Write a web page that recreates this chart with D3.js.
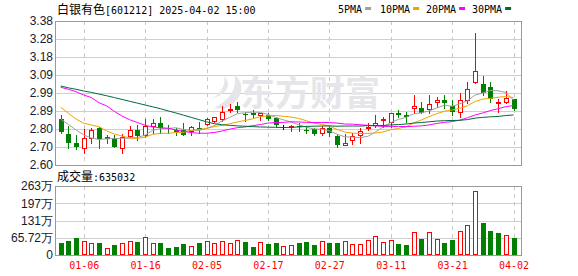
<!DOCTYPE html>
<html>
<head>
<meta charset="utf-8">
<script src="https://cdn.jsdelivr.net/npm/d3@7"></script>
<style>
    body { margin: 0; background: #fff; }
    svg { display: block; }
</style>
</head>
<body>
<div id="kChart"></div>
<script>
// trading days, 2024-12-31 .. 2025-04-02
let dates = ["12-31","01-02","01-03","01-06","01-07","01-08","01-09","01-10","01-13","01-14",
    "01-15","01-16","01-17","01-20","01-21","01-22","01-23","01-24","01-27","02-05",
    "02-06","02-07","02-10","02-11","02-12","02-13","02-14","02-17","02-18","02-19",
    "02-20","02-21","02-24","02-25","02-26","02-27","02-28","03-03","03-04","03-05",
    "03-06","03-07","03-10","03-11","03-12","03-13","03-14","03-17","03-18","03-19",
    "03-20","03-21","03-24","03-25","03-26","03-27","03-28","03-31","04-01","04-02"];

let opens = [2.849,2.768,2.719,2.690,2.746,2.799,2.750,2.745,2.690,2.759,
    2.790,2.763,2.813,2.826,2.802,2.790,2.790,2.784,2.799,2.822,
    2.840,2.849,2.896,2.920,2.878,2.883,2.872,2.871,2.856,2.807,
    2.804,2.811,2.790,2.793,2.772,2.799,2.759,2.708,2.735,2.763,
    2.799,2.815,2.844,2.831,2.883,2.871,2.909,2.907,2.902,2.943,
    2.952,2.920,2.885,2.952,3.051,3.039,3.021,2.934,2.943,2.956];
let highs = [2.871,2.811,2.763,2.795,2.802,2.804,2.763,2.763,2.766,2.811,
    2.817,2.849,2.849,2.858,2.817,2.802,2.826,2.811,2.835,2.853,
    2.862,2.920,2.930,2.943,2.885,2.898,2.883,2.883,2.862,2.817,
    2.817,2.830,2.811,2.802,2.811,2.811,2.763,2.768,2.772,2.799,
    2.826,2.871,2.862,2.880,2.898,2.885,2.979,2.943,2.979,2.967,
    2.979,2.952,2.988,3.051,3.317,3.082,3.048,2.958,3.001,2.960];
let lows = [2.772,2.694,2.688,2.667,2.721,2.690,2.718,2.699,2.667,2.753,
    2.735,2.753,2.772,2.772,2.772,2.763,2.763,2.763,2.772,2.817,
    2.835,2.840,2.885,2.889,2.840,2.862,2.844,2.844,2.807,2.793,
    2.784,2.784,2.776,2.763,2.763,2.755,2.699,2.708,2.714,2.721,
    2.790,2.804,2.807,2.807,2.862,2.831,2.883,2.880,2.883,2.913,
    2.909,2.871,2.862,2.934,3.043,2.979,2.943,2.889,2.934,2.896];
let closes = [2.780,2.721,2.696,2.745,2.788,2.741,2.742,2.699,2.753,2.790,
    2.759,2.811,2.826,2.799,2.793,2.780,2.763,2.807,2.790,2.848,
    2.858,2.885,2.902,2.896,2.875,2.871,2.880,2.849,2.817,2.807,
    2.811,2.804,2.787,2.766,2.802,2.772,2.708,2.717,2.757,2.786,
    2.807,2.826,2.851,2.880,2.871,2.862,2.920,2.883,2.930,2.952,
    2.934,2.889,2.952,3.012,3.109,2.988,2.958,2.943,2.965,2.902];

let volumes = [468600,545000,648000,545000,469000,469000,267000,381000,469000,521000,
    508000,673000,469000,469000,279000,317000,419000,343000,469000,533000,
    469000,533000,445000,571000,508000,317000,495000,431000,469000,343000,
    381000,470000,508000,381000,533000,470000,470000,533000,419000,419000,
    571000,724000,495000,571000,419000,381000,876000,610000,876000,610000,
    457000,571000,902000,1143000,2426000,1232000,914000,851000,762000,635032];
// 1 = red bar, 0 = green bar
let volUp = [0,0,0,1,1,0,1,0,1,1, 0,1,1,0,0,0,0,1,0,1, 1,1,1,1,0,0,1,0,0,1,
    1,0,0,0,1,0,0,1,1,1, 1,1,1,1,0,0,1,0,1,1, 0,0,1,1,1,0,0,0,1,0];

let ma5 = [2.848,2.820,2.790,2.763,2.746,2.738,2.742,2.743,2.745,2.745,
    2.749,2.762,2.788,2.797,2.798,2.802,2.792,2.788,2.787,2.798,
    2.813,2.838,2.857,2.878,2.883,2.886,2.885,2.874,2.858,2.845,
    2.833,2.818,2.805,2.795,2.794,2.786,2.767,2.753,2.751,2.748,
    2.755,2.779,2.805,2.830,2.847,2.858,2.877,2.883,2.893,2.909,
    2.924,2.918,2.931,2.948,2.979,2.990,3.004,3.002,2.993,2.951];
let ma10 = [2.913,2.880,2.849,2.826,2.817,2.807,2.784,2.768,2.757,2.746,
    2.744,2.752,2.766,2.771,2.772,2.776,2.777,2.788,2.792,2.798,
    2.808,2.815,2.823,2.833,2.841,2.850,2.862,2.866,2.868,2.864,
    2.860,2.852,2.840,2.827,2.820,2.810,2.793,2.779,2.773,2.771,
    2.771,2.773,2.779,2.791,2.798,2.807,2.828,2.844,2.862,2.878,
    2.891,2.898,2.907,2.921,2.944,2.957,2.961,2.967,2.971,2.965];
let ma20 = [3.021,3.010,2.997,2.979,2.965,2.937,2.920,2.890,2.865,2.845,
    2.830,2.815,2.806,2.802,2.799,2.790,2.782,2.776,2.772,2.772,
    2.776,2.784,2.794,2.802,2.806,2.813,2.819,2.827,2.830,2.831,
    2.834,2.833,2.831,2.830,2.830,2.830,2.827,2.822,2.821,2.818,
    2.815,2.812,2.809,2.809,2.809,2.808,2.810,2.812,2.817,2.825,
    2.831,2.835,2.843,2.856,2.871,2.882,2.895,2.905,2.916,2.922];
let ma30 = [3.028,3.018,3.010,3.001,2.993,2.984,2.975,2.965,2.955,2.945,
    2.935,2.925,2.915,2.905,2.893,2.882,2.870,2.858,2.846,2.834,
    2.824,2.818,2.815,2.812,2.810,2.808,2.806,2.805,2.804,2.803,
    2.804,2.806,2.809,2.810,2.811,2.812,2.810,2.811,2.811,2.811,
    2.813,2.813,2.814,2.817,2.819,2.822,2.827,2.830,2.834,2.838,
    2.840,2.841,2.842,2.846,2.854,2.858,2.861,2.863,2.868,2.871];

let priceTicks = [2.60, 2.6975, 2.795, 2.8925, 2.99, 3.0875, 3.185, 3.2825, 3.38];
let priceLabels = ["2.60","2.70","2.80","2.89","2.99","3.09","3.18","3.28","3.38"];
let volTicks = [0, 657200, 1314400, 1971600, 2628800];
let volLabels = ["0","65.72万","131万","197万","263万"];
let axisDates = ["01-06","01-16","02-05","02-17","02-27","03-11","03-21","04-02"];
let maNames = ["5PMA","10PMA","20PMA","30PMA"];

class klineChart {

    constructor () {
        this.left = 56;
        this.right = 522;
        this.upColor = "#ff0000";
        this.downColor = "#008000";
        this.maColors = ["#a0a0a0", "#f2a200", "#ff00ff", "#006b35"];
        this.mono = "'DejaVu Sans Mono', 'Liberation Mono', monospace";
        this.cjk = "'Noto Sans CJK SC', sans-serif";

        this.svg = d3.select("#kChart").append("svg")
            .attr("width", 578)
            .attr("height", 276);

        this.x = d3.scalePoint().domain(dates).range([60.7, 513.5]);
        this.yPrice = d3.scaleLinear().domain([2.60, 3.38]).range([165, 21]);
        this.yVol = d3.scaleLinear().domain([0, 2628800]).range([255, 186]);

        this.drawHeader();
        this.drawPanel(this.yPrice, priceTicks, priceLabels, 21, 165);
        this.drawWatermark();
        this.drawCandles();
        this.drawMA();
        this.drawPanel(this.yVol, volTicks, volLabels, 186, 255);
        this.drawVolume();
    }

    drawHeader () {
        let title = this.svg.append("text")
            .attr("x", 57).attr("y", 14)
            .attr("fill", "#000");
        title.append("tspan").style("font", "12px " + this.cjk).text("白银有色");
        title.append("tspan").style("font", "10px " + this.mono).text("[601212] 2025-04-02 15:00");

        //legend
        let starts = [338, 380, 426, 472];
        maNames.forEach((name, i) => {
            let t = this.svg.append("text")
                .attr("x", starts[i]).attr("y", 13)
                .style("font", "10px " + this.mono)
                .attr("fill", "#000")
                .text(name);
            let w = t.node().getComputedTextLength();
            this.svg.append("rect")
                .attr("x", starts[i] + w + 3).attr("y", 7)
                .attr("width", 6).attr("height", 3)
                .attr("fill", this.maColors[i]);
        });

        let vt = this.svg.append("text")
            .attr("x", 57).attr("y", 181)
            .attr("fill", "#000");
        vt.append("tspan").style("font", "12px " + this.cjk).text("成交量");
        vt.append("tspan").style("font", "10px " + this.mono).text(":" + volumes[volumes.length - 1]);
    }

    drawPanel (y, ticks, labels, top, bottom) {
        let g = this.svg.append("g");

        //horizontal grid + labels
        let axis = d3.axisLeft(y)
            .tickValues(ticks)
            .tickFormat((d, i) => labels[i])
            .tickSize(-(this.right - this.left))
            .tickPadding(3);
        let ag = g.append("g")
            .attr("transform", "translate(" + this.left + ",0)")
            .call(axis);
        ag.select(".domain").remove();
        ag.selectAll("line")
            .attr("stroke", "#cfcfcf")
            .attr("shape-rendering", "crispEdges");
        ag.selectAll("text")
            .style("font", "12px 'Liberation Sans', Arial, sans-serif")
            .attr("fill", "#1a1a2a");

        //dashed day lines
        g.selectAll(".vgrid")
            .data(axisDates)
            .enter().append("line")
            .attr("x1", d => Math.round(this.x(d)) + 0.5)
            .attr("x2", d => Math.round(this.x(d)) + 0.5)
            .attr("y1", top)
            .attr("y2", bottom)
            .attr("stroke", "#c8c8c8")
            .attr("stroke-dasharray", "4,4")
            .attr("shape-rendering", "crispEdges");

        g.append("rect")
            .attr("x", this.left - 0.5).attr("y", top + 0.5)
            .attr("width", this.right - this.left).attr("height", bottom - top)
            .attr("fill", "none")
            .attr("stroke", "#999")
            .attr("shape-rendering", "crispEdges");
    }

    drawWatermark () {
        let g = this.svg.append("g").attr("fill", "#e6e6ea");
        g.append("path")
            .attr("d", "M214,108 C230,100 238,88 234,74 C246,84 244,100 224,109 Z");
        g.append("path")
            .attr("d", "M213,98 C222,92 226,84 224,76 C232,84 228,94 213,98 Z");
        g.append("text")
            .attr("x", 240).attr("y", 106)
            .style("font", "bold 35px " + this.cjk)
            .text("东方财富");
    }

    drawCandles () {
        let g = this.svg.append("g").attr("shape-rendering", "crispEdges");
        let idx = d3.range(dates.length);
        let col = i => closes[i] > opens[i] ? this.upColor : (closes[i] < opens[i] ? this.downColor : "#000");

        g.selectAll(".wick")
            .data(idx)
            .enter().append("line")
            .attr("x1", i => Math.round(this.x(dates[i])) + 0.5)
            .attr("x2", i => Math.round(this.x(dates[i])) + 0.5)
            .attr("y1", i => Math.round(this.yPrice(highs[i])))
            .attr("y2", i => Math.round(this.yPrice(lows[i])) + 1)
            .attr("stroke", col);

        g.selectAll(".body")
            .data(idx)
            .enter().append("rect")
            .attr("x", i => {
                let cx = Math.round(this.x(dates[i]));
                return closes[i] > opens[i] ? cx - 1.5 : cx - 2;
            })
            .attr("y", i => {
                let t = Math.round(this.yPrice(Math.max(opens[i], closes[i])));
                return closes[i] > opens[i] ? t + 0.5 : t;
            })
            .attr("width", i => closes[i] > opens[i] ? 4 : 5)
            .attr("height", i => {
                let t = Math.round(this.yPrice(Math.max(opens[i], closes[i])));
                let b = Math.round(this.yPrice(Math.min(opens[i], closes[i])));
                return closes[i] > opens[i] ? Math.max(b - t, 1) : Math.max(b - t, 1);
            })
            .attr("fill", i => closes[i] > opens[i] ? "#fff" : col(i))
            .attr("stroke", i => closes[i] > opens[i] ? this.upColor : "none");
    }

    drawMA () {
        let line = d3.line()
            .x((d, i) => this.x(dates[i]))
            .y(d => this.yPrice(d));
        [ma5, ma10, ma20, ma30].forEach((series, k) => {
            this.svg.append("path")
                .datum(series)
                .attr("d", line)
                .attr("fill", "none")
                .attr("stroke", this.maColors[k])
                .attr("stroke-width", 1);
        });
    }

    drawVolume () {
        let g = this.svg.append("g").attr("shape-rendering", "crispEdges");
        let idx = d3.range(dates.length);
        let base = Math.round(this.yVol(0));

        g.selectAll(".vbar")
            .data(idx)
            .enter().append("rect")
            .attr("x", i => Math.round(this.x(dates[i])) - (volUp[i] ? 1.5 : 2))
            .attr("y", i => Math.round(this.yVol(volumes[i])) + (volUp[i] ? 0.5 : 0))
            .attr("width", i => volUp[i] ? 4 : 5)
            .attr("height", i => base - Math.round(this.yVol(volumes[i])) - (volUp[i] ? 1 : 0))
            .attr("fill", i => volUp[i] ? "#fff" : this.downColor)
            .attr("stroke", i => volUp[i] ? this.upColor : "none");

        //date labels
        let ax = d3.axisBottom(this.x)
            .tickValues(axisDates)
            .tickSize(0)
            .tickPadding(7);
        let ag = this.svg.append("g")
            .attr("transform", "translate(0,255)")
            .call(ax);
        ag.select(".domain").remove();
        ag.selectAll("text")
            .style("font", "10px " + this.mono)
            .attr("fill", this.upColor);
    }
};

new klineChart();
</script>
</body>
</html>
